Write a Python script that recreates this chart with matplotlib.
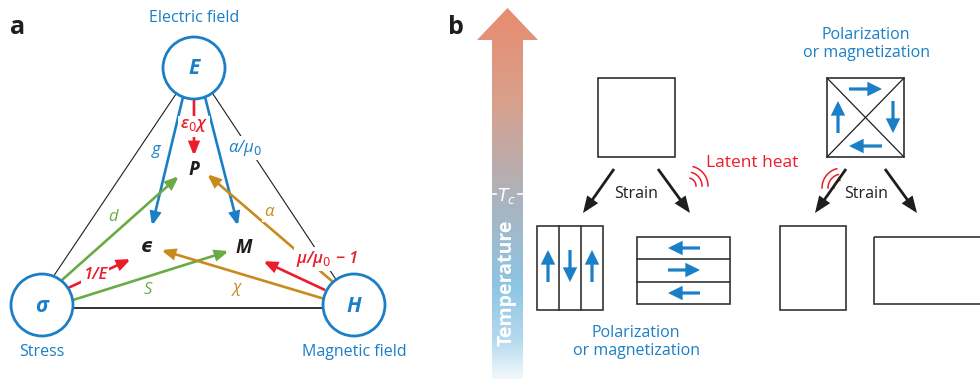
import numpy as np
import matplotlib
matplotlib.use("Agg")
import matplotlib.pyplot as plt
from matplotlib.patches import Circle, Rectangle, Polygon, FancyArrowPatch
from matplotlib.colors import LinearSegmentedColormap

plt.rcParams['font.family'] = ['Open Sans', 'DejaVu Sans']

BLUE = '#1a7fc6'
RED = '#ec1c2b'
GREEN = '#6aab45'
ORANGE = '#c98a1c'
BLACK = '#1e1e1e'

# Panel a: nodes of the coupling triangle
node_names = ['E', 'σ', 'H']
node_labels = ['Electric field', 'Stress', 'Magnetic field']
node_xy = [(194, 68), (42, 305), (354, 305)]
node_r = 31

# response variables
resp_names = ['P', 'ϵ', 'M']
resp_xy = [(194, 170), (146, 247), (244, 248)]

# coupling arrows: (start, end, colour, label, label position)
couplings = [
    ((183, 97), (152, 226), BLUE, 'g', (156, 150)),
    ((205, 97), (238, 226), BLUE, 'α/μ$_0$', (245, 148)),
    ((194, 97), (194, 156), RED, 'ε$_0$χ', (194, 126)),
    ((62, 280), (179, 176), GREEN, 'd', (113, 217)),
    ((73, 300), (229, 251), GREEN, 'S', (148, 290)),
    ((68, 288), (131, 259), RED, '1/E', (95, 275)),
    ((328, 300), (161, 250), ORANGE, 'χ', (237, 288)),
    ((333, 282), (207, 174), ORANGE, 'α', (269, 212)),
    ((325, 290), (263, 261), RED, 'μ/μ$_0$ − 1', (327, 259)),
]

fig = plt.figure(figsize=(9.8, 3.79), dpi=100)
ax = fig.add_axes([0, 0, 1, 1])
ax.set_xlim(0, 980)
ax.set_ylim(379, 0)
ax.axis('off')


def arrow(p0, p1, color, lw=1.9, hl=0.95, hw=0.38, ms=8, z=3):
    a = FancyArrowPatch(p0, p1, arrowstyle=f'-|>,head_length={hl},head_width={hw}',
                        mutation_scale=ms, color=color, lw=lw, shrinkA=0, shrinkB=0,
                        joinstyle='miter', capstyle='butt', zorder=z)
    ax.add_patch(a)


# panel letters
ax.text(10, 27, 'a', fontsize=18, fontweight='bold', color=BLACK, va='center', ha='left')
ax.text(448, 27, 'b', fontsize=18, fontweight='bold', color=BLACK, va='center', ha='left')

# triangle edges
ax.plot([176, 53], [94, 277], color=BLACK, lw=0.8, zorder=1)
ax.plot([213, 337], [94, 281], color=BLACK, lw=0.8, zorder=1)
ax.plot([73, 323], [308, 308], color='#333333', lw=1.4, zorder=1)

# couplings
for p0, p1, col, lab, lp in couplings:
    arrow(p0, p1, col)
for p0, p1, col, lab, lp in couplings:
    bbox = dict(boxstyle='square,pad=0.12', fc='white', ec='none')
    ax.text(lp[0], lp[1], lab, color=col, fontsize=12, fontstyle='italic',
            fontweight='semibold' if col == RED else 'normal',
            ha='center', va='center', bbox=bbox, zorder=4)

# nodes
for name, lab, (x, y) in zip(node_names, node_labels, node_xy):
    ax.add_patch(Circle((x, y), node_r, fc='white', ec=BLUE, lw=2.0, zorder=5))
    ax.text(x, y + 1, name, color=BLUE, fontsize=15, fontweight='bold', fontstyle='italic',
            ha='center', va='center', zorder=6)
    ly = 18 if y < 150 else 352
    ax.text(x, ly, lab, color=BLUE, fontsize=11.5, ha='center', va='center')

for name, (x, y) in zip(resp_names, resp_xy):
    ax.text(x, y, name, color=BLACK, fontsize=13.5, fontweight='bold', fontstyle='italic',
            ha='center', va='center', zorder=6)

# Panel b: temperature arrow with gradient fill
shaft_l, shaft_r = 492, 523
head_l, head_r = 477, 538
tip_y, base_y = 8, 40
verts = [(shaft_l, 379), (shaft_l, base_y), (head_l, base_y), ((head_l + head_r) / 2, tip_y),
         (head_r, base_y), (shaft_r, base_y), (shaft_r, 379)]
poly = Polygon(verts, closed=True, fc='none', ec='none')
ax.add_patch(poly)
cmap = LinearSegmentedColormap.from_list('temp', [
    (0.0, '#e88c70'), (0.25, '#d8a08c'), (0.45, '#b7aeb0'),
    (0.55, '#a6b6c4'), (0.75, '#8dc5e3'), (0.9, '#b6daef'), (1.0, '#f2f8fc')])
grad = np.linspace(0, 1, 400).reshape(-1, 1)
im = ax.imshow(grad, cmap=cmap, extent=[head_l, head_r, 379, tip_y], aspect='auto',
               interpolation='bilinear', zorder=1)
im.set_clip_path(poly)
ax.set_xlim(0, 980)
ax.set_ylim(379, 0)

# T_c mark
ax.plot([488, 496], [194, 194], color='white', lw=1.2, zorder=2)
ax.plot([518, 526], [194, 194], color='white', lw=1.2, zorder=2)
ax.text(507, 196, '$T_c$', color='white', fontsize=12.5, ha='center', va='center', zorder=2)
ax.text(507, 283, 'Temperature', color='white', fontsize=14, fontweight='bold',
        rotation=90, ha='center', va='center', zorder=2)

# cubic parent phases
ax.add_patch(Rectangle((598, 78), 77, 79, fc='none', ec=BLACK, lw=1.1))
ax.add_patch(Rectangle((827, 78), 77, 79, fc='none', ec=BLACK, lw=1.1))
ax.plot([827, 904], [78, 157], color=BLACK, lw=0.9)
ax.plot([827, 904], [157, 78], color=BLACK, lw=0.9)

DOMAIN = dict(lw=2.3, hl=0.85, hw=0.42, ms=8, z=4)

# vortex domain arrows
for p0, p1 in [((849, 89), (882, 89)), ((893, 101), (893, 133)),
               ((882, 146), (849, 146)), ((838, 133), (838, 101))]:
    arrow(p0, p1, BLUE, **DOMAIN)

# strain arrows
for p0, p1 in [((614, 169), (583, 213)), ((658, 169), (690, 213)),
               ((846, 169), (815, 213)), ((885, 169), (917, 213))]:
    arrow(p0, p1, BLACK, lw=2.0, hl=1.05, hw=0.42, ms=8)
ax.text(636, 194, 'Strain', color=BLACK, fontsize=11.5, ha='center', va='center')
ax.text(866, 194, 'Strain', color=BLACK, fontsize=11.5, ha='center', va='center')

# latent heat
ax.text(752, 163, 'Latent heat', color=RED, fontsize=12.5, ha='center', va='center')
ang = np.radians(np.linspace(0, 75, 40))
for r in (8, 14, 20):
    ax.plot(688 + r * np.cos(ang), 186 - r * np.sin(ang), color=RED, lw=1.1)
    ax.plot(842 - r * np.cos(ang), 188 - r * np.sin(ang), color=RED, lw=1.1)

# ferroic domains below T_c
ax.add_patch(Rectangle((537, 226), 66, 84, fc='none', ec='#333333', lw=1.2))
ax.plot([559, 559], [226, 310], color='#333333', lw=1.2)
ax.plot([581, 581], [226, 310], color='#333333', lw=1.2)
for x, up in [(548, True), (570, False), (592, True)]:
    p0, p1 = ((x, 282), (x, 250)) if up else ((x, 250), (x, 282))
    arrow(p0, p1, BLUE, **DOMAIN)

ax.add_patch(Rectangle((637, 237), 93, 67, fc='none', ec='#333333', lw=1.2))
ax.plot([637, 730], [259, 259], color='#333333', lw=1.2)
ax.plot([637, 730], [282, 282], color='#333333', lw=1.2)
for y, right in [(248, False), (270, True), (293, False)]:
    p0, p1 = ((668, y), (700, y)) if right else ((700, y), (668, y))
    arrow(p0, p1, BLUE, **DOMAIN)

ax.text(636, 342, 'Polarization\nor magnetization', color=BLUE, fontsize=11.5,
        ha='center', va='center', linespacing=1.15)
ax.text(866, 44, 'Polarization\nor magnetization', color=BLUE, fontsize=11.5,
        ha='center', va='center', linespacing=1.15)

# strained paraelastic boxes
ax.add_patch(Rectangle((780, 226), 66, 84, fc='none', ec='#333333', lw=1.2))
ax.add_patch(Rectangle((874, 237), 110, 67, fc='none', ec='#333333', lw=1.2))

fig.savefig('out.png', dpi=100)
